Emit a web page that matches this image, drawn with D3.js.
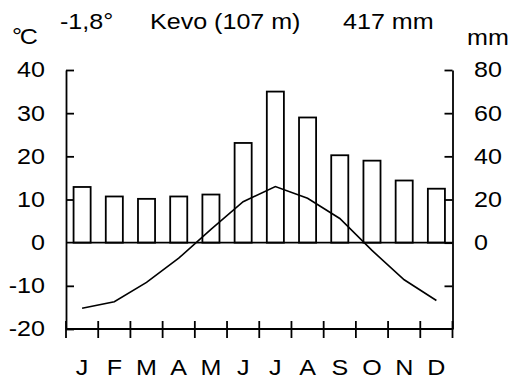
<!DOCTYPE html>
<html>
<head>
<meta charset="utf-8">
<script src="https://cdn.jsdelivr.net/npm/d3@7"></script>
<style>
  html, body { margin: 0; padding: 0; background: #fff; }
  svg text { font-family: "Liberation Sans", Arial, Helvetica, sans-serif; fill: #000; }
</style>
</head>
<body>
<svg id="chart" width="512" height="381"></svg>
<script>
// Climate diagram: Kevo (107 m), monthly mean temperature and precipitation
const months = ["J", "F", "M", "A", "M", "J", "J", "A", "S", "O", "N", "D"];
const temperature = [-15.2, -13.7, -9.2, -3.6, 3.1, 9.5, 13.0, 10.3, 5.6, -1.8, -8.6, -13.4];
const precipitation = [25.8, 21.4, 20.3, 21.4, 22.3, 46.2, 70.0, 58.0, 40.5, 38.0, 28.8, 25.0];
const tempTicks = [-20, -10, 10, 20, 30, 40];
const tempLabels = [-20, -10, 0, 10, 20, 30, 40];
const precTicks = [-20, 0, 20, 40, 60, 80];
const precLabels = [0, 20, 40, 60, 80];
const station = "Kevo (107 m)";
const meanTemp = "-1,8°";
const totalPrec = "417 mm";

const svg = d3.select("#chart");
const plotLeft = 66, plotRight = 452.5, plotTop = 70, plotBottom = 329;
const fontSize = 22, stretch = 1.14;

const x = d3.scaleBand().domain(d3.range(12)).range([plotLeft, plotRight]).padding(0);
const yT = d3.scaleLinear().domain([-20, 40]).range([plotBottom, plotTop]);
const yP = d3.scaleLinear().domain([-40, 80]).range([plotBottom, plotTop]);

const stroke = 1.8;
const barW = x.bandwidth() * 0.53;

// wide sans label placed at (px, py)
function label(sel, px, py, anchor, dy) {
  return sel
    .attr("transform", (d, i) => `translate(${px(d, i)},${py(d, i)}) scale(${stretch},1)`)
    .attr("text-anchor", anchor)
    .attr("dy", dy)
    .attr("font-size", fontSize);
}

// precipitation bars
svg.append("g").selectAll("rect")
  .data(precipitation)
  .join("rect")
  .attr("x", (d, i) => x(i) + (x.bandwidth() - barW) / 2)
  .attr("y", d => yP(d))
  .attr("width", barW)
  .attr("height", d => yP(0) - yP(d))
  .attr("fill", "#fff")
  .attr("stroke", "#000")
  .attr("stroke-width", stroke);

// temperature curve
const line = d3.line()
  .x((d, i) => x(i) + x.bandwidth() / 2)
  .y(d => yT(d));
svg.append("path")
  .datum(temperature)
  .attr("d", line)
  .attr("fill", "none")
  .attr("stroke", "#000")
  .attr("stroke-width", 1.6);

// zero line
svg.append("line")
  .attr("x1", plotLeft).attr("x2", plotRight)
  .attr("y1", yT(0)).attr("y2", yT(0))
  .attr("stroke", "#000").attr("stroke-width", stroke);

// left temperature axis, ticks pointing inward
const axL = svg.append("g").attr("transform", `translate(${plotLeft},0)`)
  .call(d3.axisLeft(yT).tickValues(tempTicks).tickSize(-8).tickSizeOuter(0).tickFormat(() => ""));
axL.selectAll("path, line").attr("stroke", "#000").attr("stroke-width", stroke);
svg.append("g").selectAll("text")
  .data(tempLabels)
  .join("text")
  .call(label, () => 45, d => yT(d), "end", "0.34em")
  .text(d => String(d));

// right precipitation axis, ticks pointing inward
const axR = svg.append("g").attr("transform", `translate(${plotRight},0)`)
  .call(d3.axisRight(yP).tickValues(precTicks).tickSize(-8).tickSizeOuter(0).tickFormat(() => ""));
axR.selectAll("path, line").attr("stroke", "#000").attr("stroke-width", stroke);
svg.append("g").selectAll("text")
  .data(precLabels)
  .join("text")
  .call(label, () => 474, d => yP(d), "start", "0.34em")
  .text(d => String(d));

// month axis with boundary ticks crossing the baseline
const g = svg.append("g");
g.append("line")
  .attr("x1", plotLeft).attr("x2", plotRight)
  .attr("y1", plotBottom).attr("y2", plotBottom)
  .attr("stroke", "#000").attr("stroke-width", stroke);
g.selectAll("line.tick")
  .data(d3.range(13))
  .join("line")
  .attr("class", "tick")
  .attr("x1", i => i < 12 ? x(i) : plotRight)
  .attr("x2", i => i < 12 ? x(i) : plotRight)
  .attr("y1", plotBottom - 8).attr("y2", plotBottom + 9)
  .attr("stroke", "#000").attr("stroke-width", stroke);
g.selectAll("text")
  .data(months)
  .join("text")
  .call(label, (d, i) => x(i) + x.bandwidth() / 2, () => 375, "middle", 0)
  .text(d => d);

// header
const header = [
  { text: "°C", x: 12, y: 44, spacing: -2 },
  { text: meanTemp, x: 60, y: 29, spacing: 0 },
  { text: station, x: 150, y: 29, spacing: 0 },
  { text: totalPrec, x: 343, y: 29, spacing: 0 },
  { text: "mm", x: 467, y: 45, spacing: 0 }
];
svg.append("g").selectAll("text")
  .data(header)
  .join("text")
  .call(label, d => d.x, d => d.y, "start", 0)
  .attr("letter-spacing", d => d.spacing)
  .text(d => d.text);
</script>
</body>
</html>
